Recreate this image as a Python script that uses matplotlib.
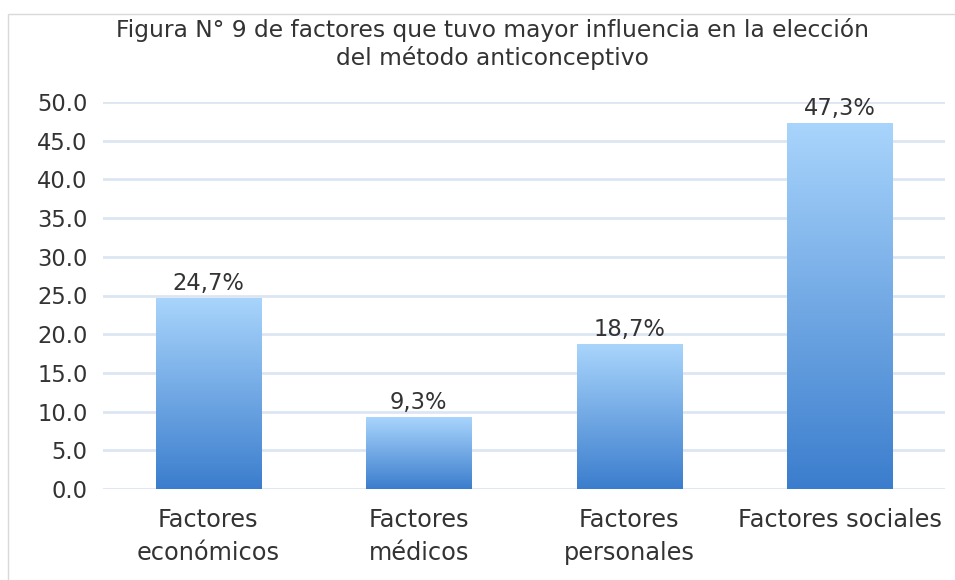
import matplotlib
matplotlib.use("Agg")
import matplotlib.pyplot as plt
import numpy as np
from matplotlib.patches import Rectangle

# Datos
categorias = ["Factores\neconómicos", "Factores\nmédicos", "Factores\npersonales", "Factores sociales"]
valores = [24.7, 9.3, 18.7, 47.3]
etiquetas = ["24,7%", "9,3%", "18,7%", "47,3%"]

plt.rcParams['font.family'] = ['DejaVu Sans']

fig = plt.figure(figsize=(9.55, 5.8), dpi=100)
ax = fig.add_axes([103 / 955, 1 - 489 / 580, 842 / 955, 387 / 580])

# Borde del gráfico
fig.patches.append(Rectangle((8 / 955, -0.01), 1, 1 - 14 / 580 + 0.01, transform=fig.transFigure,
                             fill=False, edgecolor='#d9d9d9', linewidth=1))

ax.set_xlim(-0.5, 3.5)
ax.set_ylim(0, 50)
ax.set_yticks(np.arange(0, 50.1, 5))
ax.set_yticklabels([f"{v:.1f}" for v in np.arange(0, 50.1, 5)])
ax.grid(axis='y', color='#dce6f2', linewidth=2)
ax.set_axisbelow(True)
for s in ax.spines.values():
    s.set_visible(False)
ax.tick_params(length=0, colors='#333333')
ax.tick_params(axis='y', pad=11, labelsize=16.3)
ax.tick_params(axis='x', pad=14, labelsize=17.3)
ax.set_xticks(range(len(categorias)))
ax.set_xticklabels(categorias, linespacing=1.45)

# Barras con degradado
grad = np.linspace(0, 1, 256).reshape(-1, 1)
cmap = matplotlib.colors.LinearSegmentedColormap.from_list('azul', ['#3b7dcd', '#a9d5fc'])
ancho = 0.5
for i, v in enumerate(valores):
    barra = ax.bar(i, v, width=ancho, color='none', edgecolor='none')[0]
    im = ax.imshow(grad, extent=[i - ancho / 2, i + ancho / 2, 0, v], origin='lower',
                   aspect='auto', cmap=cmap, zorder=2)
    im.set_clip_path(barra)
    ax.text(i, v + 0.4, etiquetas[i], ha='center', va='bottom', fontsize=16.3, color='#333333')

ax.set_xlim(-0.5, 3.5)
ax.set_ylim(0, 50)

fig.text(492 / 955, 1 - 44 / 580, "Figura N° 9 de factores que tuvo mayor influencia en la elección\ndel método anticonceptivo",
         ha='center', va='center', fontsize=16.8, color='#333333', linespacing=1.2)

fig.savefig("out.png", dpi=100)
